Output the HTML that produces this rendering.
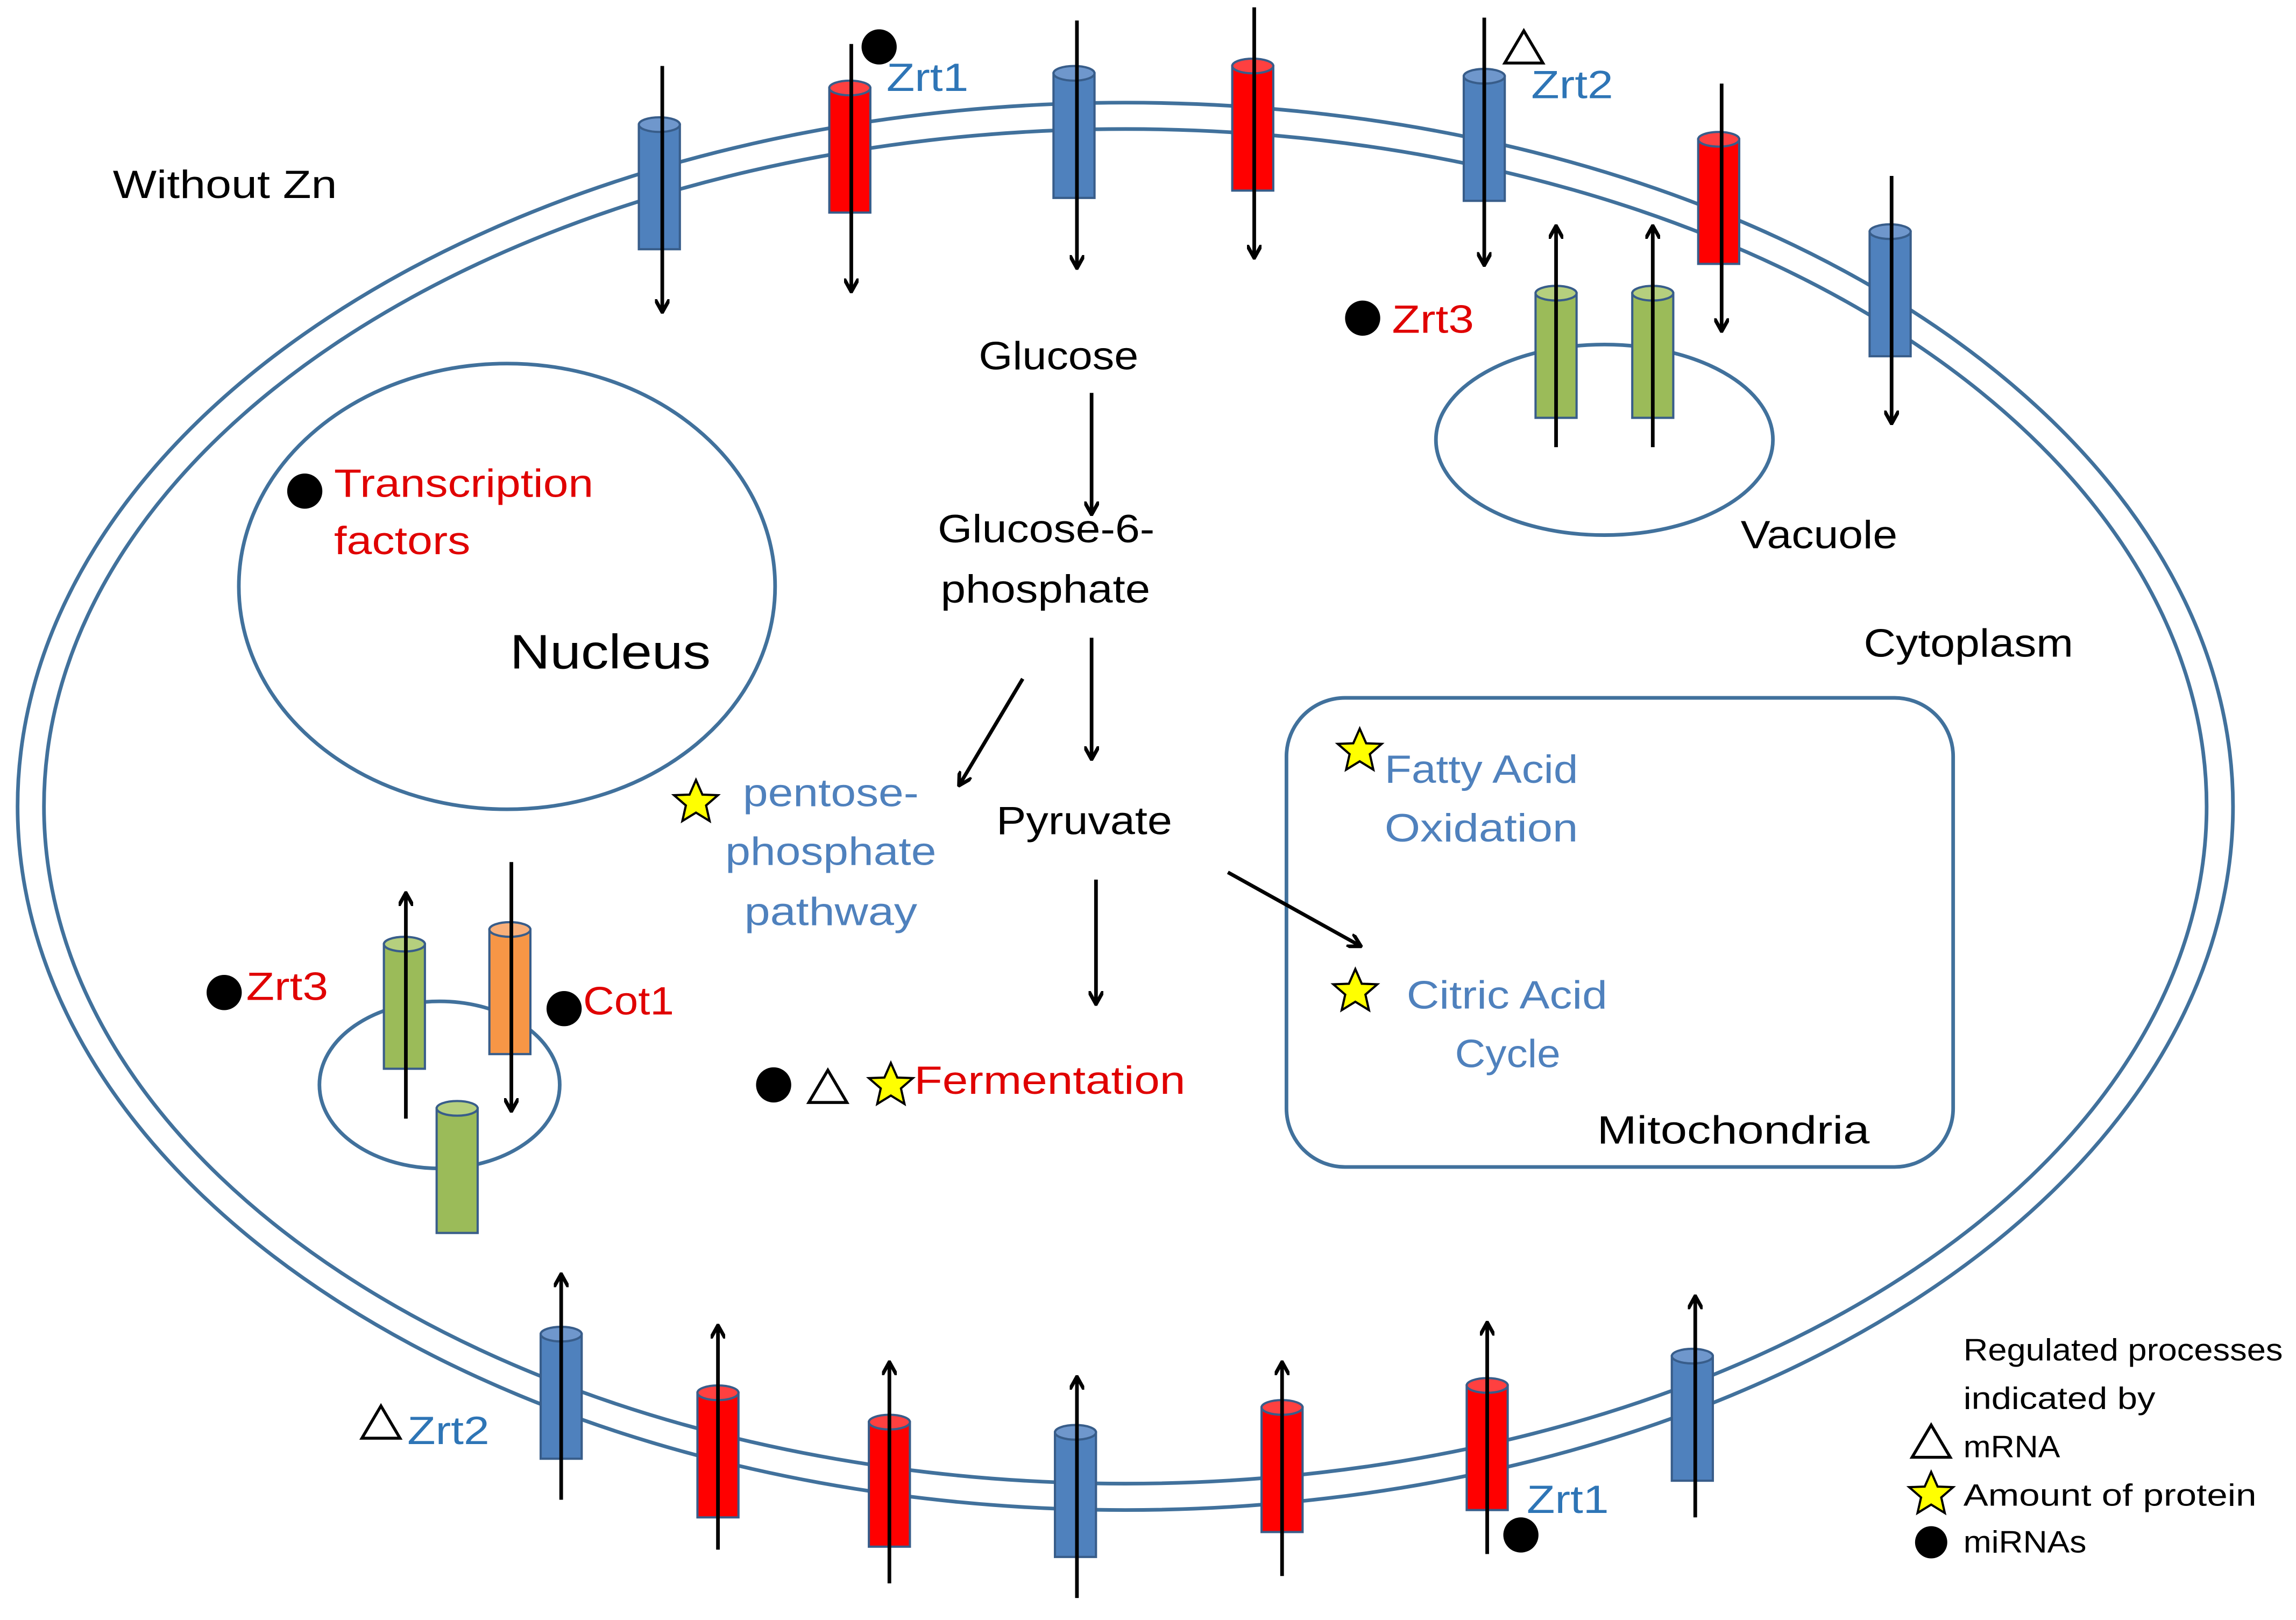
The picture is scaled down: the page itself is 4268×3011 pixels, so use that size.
<!DOCTYPE html>
<html><head><meta charset="utf-8"><style>html,body{margin:0;padding:0;background:#fff}svg{display:block}text{font-family:"Liberation Sans",sans-serif}</style></head><body>
<svg width="4268" height="3011" viewBox="0 0 1567 1105" preserveAspectRatio="none" xmlns="http://www.w3.org/2000/svg">
<defs>
<marker id="ah" markerWidth="10" markerHeight="10" refX="8" refY="5" orient="auto" markerUnits="userSpaceOnUse"><path d="M0,0 L9,5 L0,10" fill="none" stroke="#000" stroke-width="2.5"/></marker>
<g id="cb"><rect x="-14" y="0" width="28" height="85" fill="#4f81bd" stroke="#385d8a" stroke-width="1.5"/><ellipse cx="0" cy="0" rx="14" ry="5" fill="#6f97cc" stroke="#385d8a" stroke-width="1.5"/></g>
<g id="cr"><rect x="-14" y="0" width="28" height="85" fill="#ff0000" stroke="#385d8a" stroke-width="1.5"/><ellipse cx="0" cy="0" rx="14" ry="5" fill="#ff4040" stroke="#385d8a" stroke-width="1.5"/></g>
<g id="cg"><rect x="-14" y="0" width="28" height="85" fill="#9bbb59" stroke="#385d8a" stroke-width="1.5"/><ellipse cx="0" cy="0" rx="14" ry="5" fill="#b5cf7e" stroke="#385d8a" stroke-width="1.5"/></g>
<g id="co"><rect x="-14" y="0" width="28" height="85" fill="#f79646" stroke="#385d8a" stroke-width="1.5"/><ellipse cx="0" cy="0" rx="14" ry="5" fill="#f9b07a" stroke="#385d8a" stroke-width="1.5"/></g>
<polygon id="star" points="0,-15 4.4,-5 15,-4.6 6.9,2.4 9.3,13 0,7.3 -9.3,13 -6.9,2.4 -15,-4.6 -4.4,-5" fill="#ffff00" stroke="#000" stroke-width="1.5"/>
<polygon id="tri" points="0,-12 13,10 -13,10" fill="#fff" stroke="#000" stroke-width="2"/>
</defs>
<g fill="none" stroke="#41719c" stroke-width="2.5">
<ellipse cx="768" cy="550" rx="756" ry="480"/>
<ellipse cx="768" cy="550" rx="738" ry="462"/>
<ellipse cx="346" cy="400" rx="183" ry="152"/>
<ellipse cx="1095" cy="300" rx="115" ry="65"/>
<ellipse cx="300" cy="740" rx="82" ry="57"/>
<rect x="878" y="476" width="455" height="320" rx="40"/>
</g>
<use href="#cb" x="450" y="85"/><use href="#cr" x="580" y="60"/><use href="#cb" x="733" y="50"/><use href="#cr" x="855" y="45"/><use href="#cb" x="1013" y="52"/><use href="#cr" x="1173" y="95"/><use href="#cb" x="1290" y="158"/>
<use href="#cg" x="1062" y="200"/><use href="#cg" x="1128" y="200"/>
<use href="#cg" x="276" y="644"/><use href="#co" x="348" y="634"/><use href="#cg" x="312" y="756"/>
<use href="#cb" x="383" y="910"/><use href="#cr" x="490" y="950"/><use href="#cr" x="607" y="970"/><use href="#cb" x="734" y="977"/><use href="#cr" x="875" y="960"/><use href="#cr" x="1015" y="945"/><use href="#cb" x="1155" y="925"/>
<g stroke="#000" stroke-width="2.5" marker-end="url(#ah)" fill="none">
<line x1="452" y1="45" x2="452" y2="212"/><line x1="581" y1="30" x2="581" y2="198"/><line x1="735" y1="14" x2="735" y2="182"/><line x1="856" y1="5" x2="856" y2="175"/><line x1="1013" y1="12" x2="1013" y2="180"/><line x1="1175" y1="57" x2="1175" y2="225"/><line x1="1291" y1="120" x2="1291" y2="288"/>
<line x1="1062" y1="305" x2="1062" y2="155"/><line x1="1128" y1="305" x2="1128" y2="155"/>
<line x1="277" y1="763" x2="277" y2="610"/><line x1="349" y1="588" x2="349" y2="757"/>
<line x1="383" y1="1023" x2="383" y2="870"/><line x1="490" y1="1057" x2="490" y2="905"/><line x1="607" y1="1080" x2="607" y2="930"/><line x1="735" y1="1090" x2="735" y2="940"/><line x1="875" y1="1075" x2="875" y2="930"/><line x1="1015" y1="1060" x2="1015" y2="903"/><line x1="1157" y1="1035" x2="1157" y2="885"/>
<line x1="745" y1="268" x2="745" y2="350"/><line x1="745" y1="435" x2="745" y2="517"/><line x1="698" y1="463" x2="655" y2="535"/><line x1="748" y1="600" x2="748" y2="684"/><line x1="838" y1="595" x2="928" y2="645"/>
</g>
<g font-size="27" lengthAdjust="spacingAndGlyphs">
<text x="77" y="135" fill="#000" textLength="153" lengthAdjust="spacingAndGlyphs">Without Zn</text>
<text x="605" y="62" fill="#2e75b6" textLength="56" lengthAdjust="spacingAndGlyphs">Zrt1</text>
<text x="1045" y="67" fill="#2e75b6" textLength="56" lengthAdjust="spacingAndGlyphs">Zrt2</text>
<text x="950" y="227" fill="#e00000" textLength="56" lengthAdjust="spacingAndGlyphs">Zrt3</text>
<text x="668" y="252" fill="#000" textLength="109" lengthAdjust="spacingAndGlyphs">Glucose</text>
<text x="640" y="370" fill="#000" textLength="148" lengthAdjust="spacingAndGlyphs">Glucose-6-</text>
<text x="642" y="411" fill="#000" textLength="143" lengthAdjust="spacingAndGlyphs">phosphate</text>
<text x="228" y="339" fill="#e00000" textLength="177" lengthAdjust="spacingAndGlyphs">Transcription</text>
<text x="228" y="378" fill="#e00000" textLength="93" lengthAdjust="spacingAndGlyphs">factors</text>
<text x="348" y="456" font-size="33" fill="#000" textLength="137" lengthAdjust="spacingAndGlyphs">Nucleus</text>
<text x="1188" y="374" fill="#000" textLength="107" lengthAdjust="spacingAndGlyphs">Vacuole</text>
<text x="1272" y="448" fill="#000" textLength="143" lengthAdjust="spacingAndGlyphs">Cytoplasm</text>
<text x="507" y="550" fill="#4f81bd" textLength="120" lengthAdjust="spacingAndGlyphs">pentose-</text>
<text x="495" y="590" fill="#4f81bd" textLength="144" lengthAdjust="spacingAndGlyphs">phosphate</text>
<text x="508" y="631" fill="#4f81bd" textLength="118" lengthAdjust="spacingAndGlyphs">pathway</text>
<text x="680" y="569" fill="#000" textLength="120" lengthAdjust="spacingAndGlyphs">Pyruvate</text>
<text x="945" y="534" fill="#4f81bd" textLength="132" lengthAdjust="spacingAndGlyphs">Fatty Acid</text>
<text x="945" y="574" fill="#4f81bd" textLength="132" lengthAdjust="spacingAndGlyphs">Oxidation</text>
<text x="960" y="688" fill="#4f81bd" textLength="137" lengthAdjust="spacingAndGlyphs">Citric Acid</text>
<text x="993" y="728" fill="#4f81bd" textLength="72" lengthAdjust="spacingAndGlyphs">Cycle</text>
<text x="1090" y="780" fill="#000" textLength="186" lengthAdjust="spacingAndGlyphs">Mitochondria</text>
<text x="168" y="682" fill="#e00000" textLength="56" lengthAdjust="spacingAndGlyphs">Zrt3</text>
<text x="398" y="692" fill="#e00000" textLength="62" lengthAdjust="spacingAndGlyphs">Cot1</text>
<text x="624" y="746" fill="#e00000" textLength="185" lengthAdjust="spacingAndGlyphs">Fermentation</text>
<text x="278" y="985" fill="#2e75b6" textLength="56" lengthAdjust="spacingAndGlyphs">Zrt2</text>
<text x="1042" y="1032" fill="#2e75b6" textLength="56" lengthAdjust="spacingAndGlyphs">Zrt1</text>
</g>
<g font-size="21" fill="#000">
<text x="1340" y="928" textLength="218" lengthAdjust="spacingAndGlyphs">Regulated processes</text>
<text x="1340" y="961" textLength="131" lengthAdjust="spacingAndGlyphs">indicated by</text>
<text x="1340" y="994" textLength="66" lengthAdjust="spacingAndGlyphs">mRNA</text>
<text x="1340" y="1027" textLength="200" lengthAdjust="spacingAndGlyphs">Amount of protein</text>
<text x="1340" y="1059" textLength="84" lengthAdjust="spacingAndGlyphs">miRNAs</text>
</g>
<g fill="#000">
<circle cx="600" cy="32" r="12"/><circle cx="930" cy="217" r="12"/><circle cx="208" cy="335" r="12"/><circle cx="153" cy="677" r="12"/><circle cx="385" cy="688" r="12"/><circle cx="528" cy="740" r="12"/><circle cx="1038" cy="1047" r="12"/><circle cx="1318" cy="1052" r="11"/>
</g>
<use href="#tri" x="1040" y="33"/><use href="#tri" x="565" y="742"/><use href="#tri" x="260" y="971"/><use href="#tri" x="1318" y="984"/>
<use href="#star" x="475" y="547"/><use href="#star" x="928" y="512"/><use href="#star" x="925" y="676"/><use href="#star" x="608" y="740"/><use href="#star" x="1318" y="1019"/>
</svg>
</body></html>
